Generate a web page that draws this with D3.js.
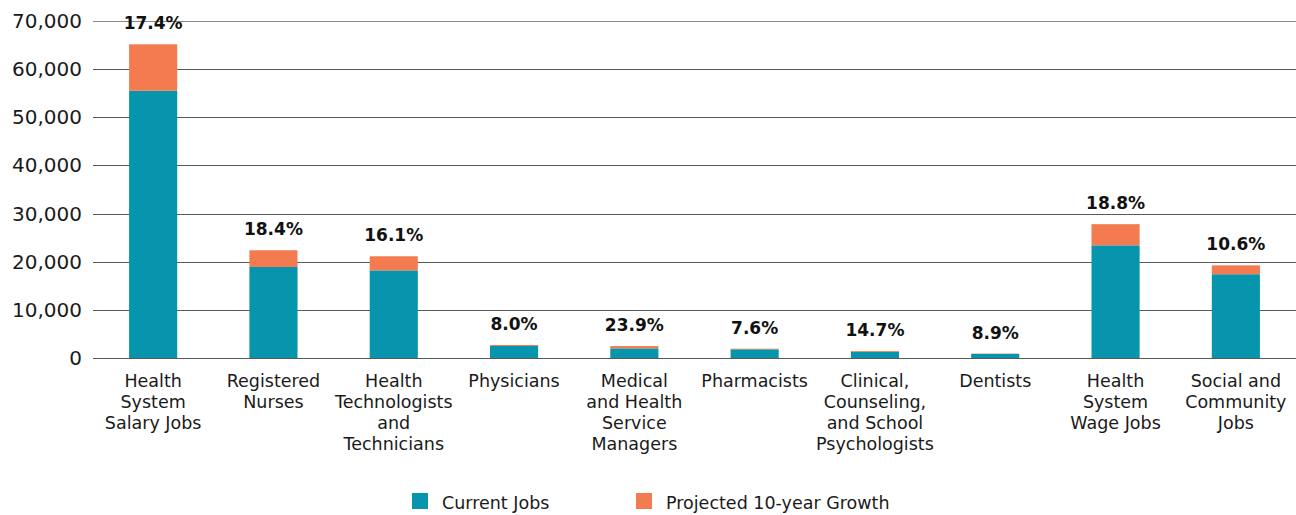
<!DOCTYPE html>
<html>
<head>
<meta charset="utf-8">
<script src="https://cdn.jsdelivr.net/npm/d3@7"></script>
<style>
  html, body { margin: 0; padding: 0; background: #fff; }
  svg { display: block; font-family: "DejaVu Sans", sans-serif; }
</style>
</head>
<body>
<svg id="chart" width="1296" height="515"></svg>
<script>
// Occupation groups (multi-line labels)
const categories = [
  ["Health", "System", "Salary Jobs"],
  ["Registered", "Nurses"],
  ["Health", "Technologists", "and", "Technicians"],
  ["Physicians"],
  ["Medical", "and Health", "Service", "Managers"],
  ["Pharmacists"],
  ["Clinical,", "Counseling,", "and School", "Psychologists"],
  ["Dentists"],
  ["Health", "System", "Wage Jobs"],
  ["Social and", "Community", "Jobs"]
];
// Current jobs
const currentJobs = [55500, 18900, 18200, 2500, 2000, 1800, 1250, 850, 23400, 17400];
// Projected 10-year growth rate (%)
const growthPct = [17.4, 18.4, 16.1, 8.0, 23.9, 7.6, 14.7, 8.9, 18.8, 10.6];
// Y axis ticks
const yTicks = [0, 10000, 20000, 30000, 40000, 50000, 60000, 70000];
const seriesNames = ["Current Jobs", "Projected 10-year Growth"];
const colors = ["#0795ad", "#f47a50"];

const projected = currentJobs.map((c, i) => c * growthPct[i] / 100);

const svg = d3.select("#chart");
const plotLeft = 93, plotRight = 1296, plotTop = 21, plotBottom = 358;

const x = d3.scaleBand().domain(d3.range(categories.length)).range([plotLeft, plotRight]).paddingInner(0.6).paddingOuter(0.3);
const y = d3.scaleLinear().domain([0, 70000]).range([plotBottom, plotTop]);

// Gridlines
svg.append("g").selectAll("line").data(yTicks).join("line")
  .attr("x1", plotLeft).attr("x2", plotRight)
  .attr("y1", d => Math.round(y(d)) + 0.5).attr("y2", d => Math.round(y(d)) + 0.5)
  .attr("stroke", d => d === 70000 ? "#8a8a8a" : "#5a5a5a")
  .attr("stroke-width", 1);

// Y tick labels
svg.append("g").selectAll("text").data(yTicks).join("text")
  .attr("x", 82).attr("y", d => y(d) + 7)
  .attr("text-anchor", "end")
  .attr("font-size", 20)
  .attr("fill", "#1a1a1a")
  .text(d => d3.format(",")(d));

// Stacked bars
const bars = svg.append("g");
bars.selectAll("rect.cur").data(currentJobs).join("rect")
  .attr("class", "cur")
  .attr("x", (d, i) => x(i)).attr("width", x.bandwidth())
  .attr("y", d => y(d)).attr("height", d => y(0) - y(d))
  .attr("fill", colors[0]);
bars.selectAll("rect.proj").data(projected).join("rect")
  .attr("class", "proj")
  .attr("x", (d, i) => x(i)).attr("width", x.bandwidth())
  .attr("y", (d, i) => y(currentJobs[i] + d))
  .attr("height", (d, i) => y(currentJobs[i]) - y(currentJobs[i] + d))
  .attr("fill", colors[1]);

// Growth labels
svg.append("g").selectAll("text").data(growthPct).join("text")
  .attr("x", (d, i) => x(i) + x.bandwidth() / 2)
  .attr("y", (d, i) => y(currentJobs[i] + projected[i]) - 15)
  .attr("text-anchor", "middle")
  .attr("font-size", 17)
  .attr("font-weight", "bold")
  .attr("fill", "#111")
  .text(d => d.toFixed(1) + "%");

// Category labels
const cat = svg.append("g").selectAll("text").data(categories).join("text")
  .attr("x", (d, i) => x(i) + x.bandwidth() / 2)
  .attr("y", 387)
  .attr("text-anchor", "middle")
  .attr("font-size", 17.5)
  .attr("fill", "#1a1a1a");
cat.selectAll("tspan").data(d => d).join("tspan")
  .attr("x", function () { return d3.select(this.parentNode).attr("x"); })
  .attr("dy", (d, i) => i === 0 ? 0 : 21)
  .text(d => d);

// Legend
const legendX = [412, 636];
const lg = svg.append("g").selectAll("g").data(seriesNames).join("g")
  .attr("transform", (d, i) => `translate(${legendX[i]},493)`);
lg.append("rect").attr("width", 16).attr("height", 16).attr("fill", (d, i) => colors[i]);
lg.append("text").attr("x", 30).attr("y", 15.5)
  .attr("font-size", 17.5).attr("fill", "#1a1a1a")
  .text(d => d);
</script>
</body>
</html>
